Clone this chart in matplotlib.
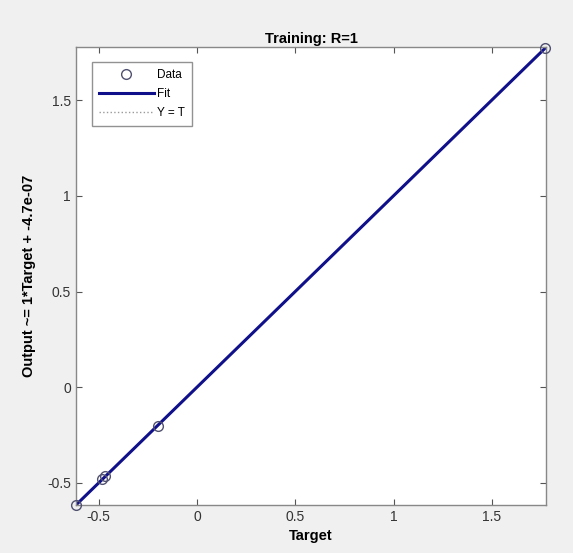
import numpy as np
import matplotlib
matplotlib.use('Agg')
from matplotlib import pyplot as plt

# targets and outputs (fit is essentially exact)
targets = [-0.615, -0.481, -0.465, -0.2, 1.77]
outputs = [-0.615, -0.481, -0.465, -0.2, 1.77]
x_ticks = [-0.5, 0, 0.5, 1, 1.5]
y_ticks = [-0.5, 0, 0.5, 1, 1.5]
x_lim = (-0.615, 1.775)
y_lim = (-0.615, 1.777)
slope = 1.0
offset = -4.7e-07

plt.rcParams['font.family'] = ['Liberation Sans', 'DejaVu Sans']

fig = plt.figure(figsize=(5.73, 5.53), dpi=100, facecolor='#f0f0f0')
ax = fig.add_axes([0.1326, 0.0868, 0.8202, 0.8282])
ax.set_facecolor('white')

# Y = T reference line, dotted
ax.plot(x_lim, x_lim, linestyle=':', color='#9a9a9a', linewidth=1, label='Y = T')
# fitted line
fx = np.array(x_lim)
ax.plot(fx, slope * fx + offset, color='#10108a', linewidth=2.2, label='Fit')
# data points (MATLAB does not clip markers at the box)
ax.plot(targets, outputs, 'o', markersize=7, markerfacecolor='none',
        markeredgecolor='#505070', markeredgewidth=1, label='Data',
        clip_on=False, zorder=5)

ax.set_xlim(x_lim)
ax.set_ylim(y_lim)
ax.set_xticks(x_ticks)
ax.set_yticks(y_ticks)
ax.set_xticklabels(['-0.5', '0', '0.5', '1', '1.5'])
ax.set_yticklabels(['-0.5', '0', '0.5', '1', '1.5'])
ax.tick_params(direction='in', top=True, right=True, length=4, width=0.8,
               colors='#555555', labelcolor='#333333', labelsize=10)
for s in ax.spines.values():
    s.set_color('#888888')
    s.set_linewidth(1)

ax.set_title('Training: R=1', fontsize=10.5, fontweight='bold', pad=3)
ax.set_xlabel('Target', fontsize=10.5, fontweight='bold', labelpad=4)
ax.set_ylabel('Output ~= 1*Target + -4.7e-07', fontsize=10.5, fontweight='bold',
              labelpad=8)

h, l = ax.get_legend_handles_labels()
leg = ax.legend(h[::-1], l[::-1], loc='upper left', fontsize=8.5,
                frameon=True, fancybox=False, edgecolor='#777777',
                borderpad=0.6, handlelength=4.6, labelspacing=0.6,
                handletextpad=0.3, bbox_to_anchor=(0.022, 0.98))
leg.get_frame().set_linewidth(1)

fig.savefig('out.png', dpi=100, facecolor=fig.get_facecolor())
